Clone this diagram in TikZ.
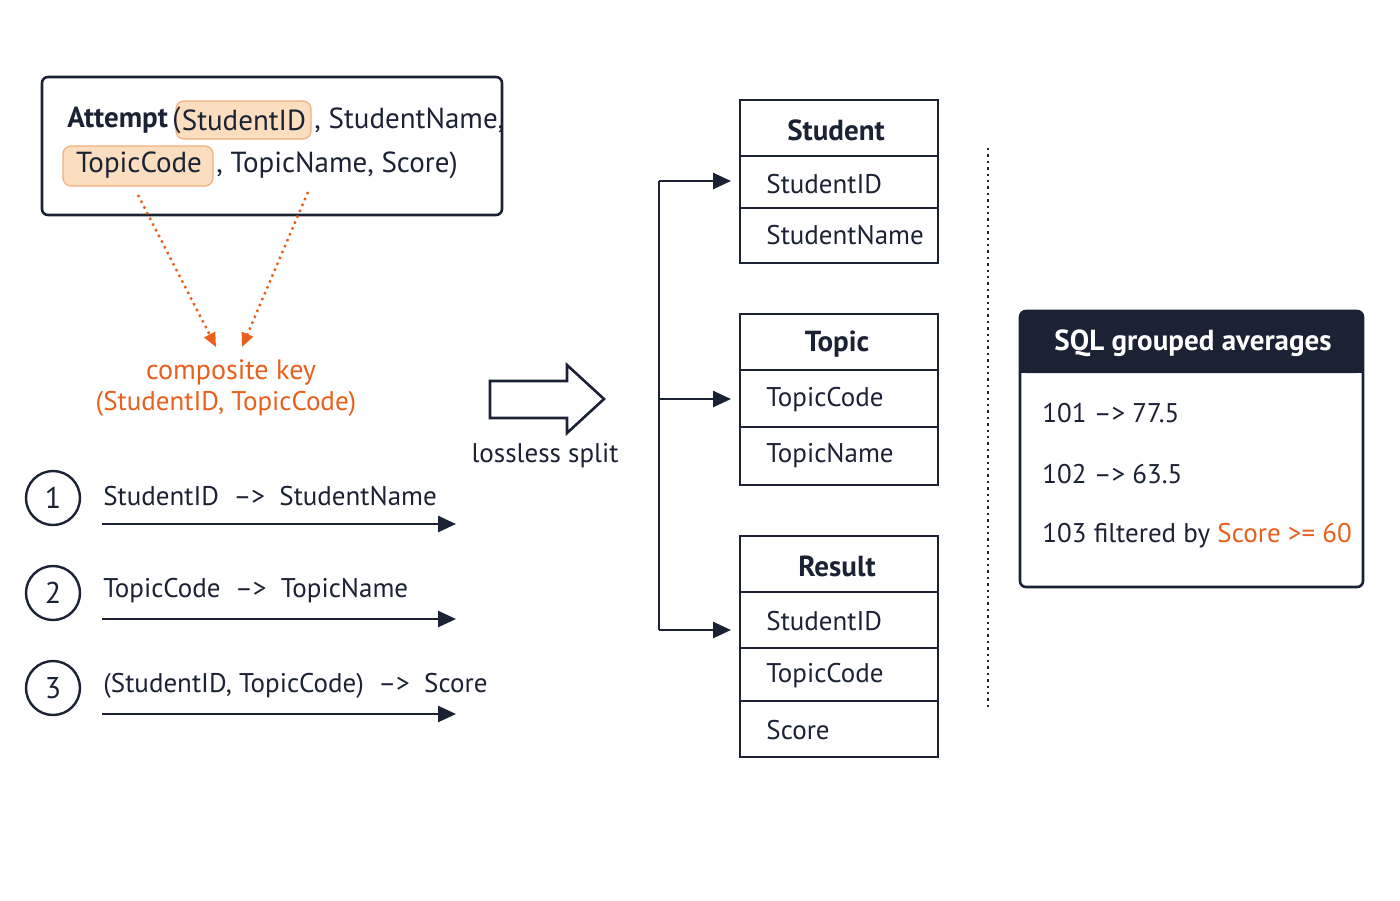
\documentclass[tikz,border=0pt]{standalone}
\usepackage{fontspec}
\setmainfont{PT Sans}
\usetikzlibrary{arrows.meta}
\definecolor{ink}{HTML}{1B2233}
\definecolor{org}{HTML}{E8601C}
\definecolor{hl}{HTML}{FBDDC0}
\definecolor{hlb}{HTML}{F2B07E}
\begin{document}
\begin{tikzpicture}[x=0.5pt,y=-0.5pt,
  txt/.style={font=\fontsize{13.5}{16}\selectfont,text=ink,inner sep=0pt},
  hd/.style={font=\fontsize{14.5}{17}\selectfont\bfseries,text=ink,inner sep=0pt},
  box/.style={draw=ink,line width=1.3pt},
  arr/.style={draw=ink,line width=1.3pt,-{Triangle[length=9pt,width=8pt]}},
  num/.style={circle,draw=ink,line width=1.2pt,minimum size=27pt,font=\fontsize{15}{17}\selectfont,text=ink,inner sep=0pt},
  hlbox/.style={fill=hl,draw=hlb,line width=0.6pt,rounded corners=4pt}]
\useasboundingbox (0,0) rectangle (1400,900);
\fill[white] (0,0) rectangle (1400,900);
% Attempt box
\draw[box,rounded corners=3pt] (42,77) rectangle (502,215);
\filldraw[hlbox] (176,101) rectangle (311,139);
\filldraw[hlbox] (63,146) rectangle (213,186);
\node[hd,anchor=west] (att) at (67,120) {Attempt};
\node[txt,anchor=west,font=\fontsize{14.5}{17}\selectfont] (p1) at (172,120) {(};
\node[txt,anchor=center,font=\fontsize{14.5}{17}\selectfont] (sid) at (244,120) {StudentID};
\node[txt,anchor=west,font=\fontsize{14.5}{17}\selectfont] (r1) at (314,120) {, StudentName,};
\node[txt,anchor=center,font=\fontsize{14.5}{17}\selectfont] (tc) at (139,165) {TopicCode};
\node[txt,anchor=west,font=\fontsize{14.5}{17}\selectfont] (r2) at (216,165) {, TopicName, Score)};
% dotted arrows
\coordinate (d1s) at (138,195); \coordinate (d1e) at (216,347);
\coordinate (d2s) at (308,192); \coordinate (d2e) at (242,347);
\draw[org,line width=1.2pt,dotted,-{Triangle[length=7pt,width=6pt]}] (d1s) -- (d1e);
\draw[org,line width=1.2pt,dotted,-{Triangle[length=7pt,width=6pt]}] (d2s) -- (d2e);
\node[txt,text=org,font=\fontsize{14}{16}\selectfont] (ck) at (231,372) {composite key};
\node[txt,text=org,font=\fontsize{13.5}{16}\selectfont] (ck2) at (226,404) {(StudentID, TopicCode)};
% hollow arrow
\draw[ink,line width=1.3pt,line join=miter] (490,381) -- (567,381) -- (567,365) -- (604,399) -- (567,433) -- (567,418) -- (490,418) -- cycle;
\node[txt] (ls) at (545,456) {lossless split};
% FDs
\foreach \i/\y/\t in {1/498/{StudentID\ \ –>\ \ StudentName},2/593/{TopicCode\ \ –>\ \ TopicName},3/688/{(StudentID, TopicCode)\ \ –>\ \ Score}}{
  \node[num] (n\i) at (53,\y) {\i};
  \node[txt,anchor=west] (f\i) at (103,\y-2) {\t};
  \coordinate (fa\i) at (102,\y+26); \coordinate (fb\i) at (456,\y+26);
  \draw[arr] (fa\i) -- (fb\i);
}
% bracket
\coordinate (b1) at (659,181); \coordinate (b2) at (659,399); \coordinate (b3) at (659,630);
\coordinate (t1) at (731,181); \coordinate (t2) at (731,399); \coordinate (t3) at (731,630);
\draw[ink,line width=1.3pt] (b1) -- (b3);
\draw[arr] (b1) -- (t1);
\draw[arr] (b2) -- (t2);
\draw[arr] (b3) -- (t3);
% tables
\draw[box] (740,100) rectangle (938,263); \draw[ink,line width=1.3pt] (740,156) -- (938,156) (740,208) -- (938,208);
\node[hd] (sh) at (836,130) {Student};
\node[txt,anchor=west] (s1) at (766,184) {StudentID};
\node[txt,anchor=west] (s2) at (766,235) {StudentName};
\draw[box] (740,314) rectangle (938,485); \draw[ink,line width=1.3pt] (740,370) -- (938,370) (740,427) -- (938,427);
\node[hd] (th) at (837,344) {Topic};
\node[txt,anchor=west] (tp1) at (766,400) {TopicCode};
\node[txt,anchor=west] (tp2) at (766,456) {TopicName};
\draw[box] (740,536) rectangle (938,757); \draw[ink,line width=1.3pt] (740,592) -- (938,592) (740,648) -- (938,648) (740,701) -- (938,701);
\node[hd] (rh) at (837,566) {Result};
\node[txt,anchor=west] (rr1) at (766,621) {StudentID};
\node[txt,anchor=west] (rr2) at (766,676) {TopicCode};
\node[txt,anchor=west] (rr3) at (766,730) {Score};
% dotted separator
\draw[ink,line width=1.2pt,dotted] (988,148) -- (988,710);
% SQL box
\fill[ink,rounded corners=3pt] (1020,311) rectangle (1363,373);
\fill[ink] (1020,350) rectangle (1363,373);
\draw[box,rounded corners=3pt] (1020,311) rectangle (1363,587);
\node[hd,text=white] (sq) at (1193,343) {SQL grouped averages};
\node[txt,anchor=west] (q1) at (1042,413) {101 –> 77.5};
\node[txt,anchor=west] (q2) at (1042,474) {102 –> 63.5};
\node[txt,anchor=west] (q3) at (1042,536) {103 filtered by \textcolor{org}{Score >= 60}};
\end{tikzpicture}
\end{document}
